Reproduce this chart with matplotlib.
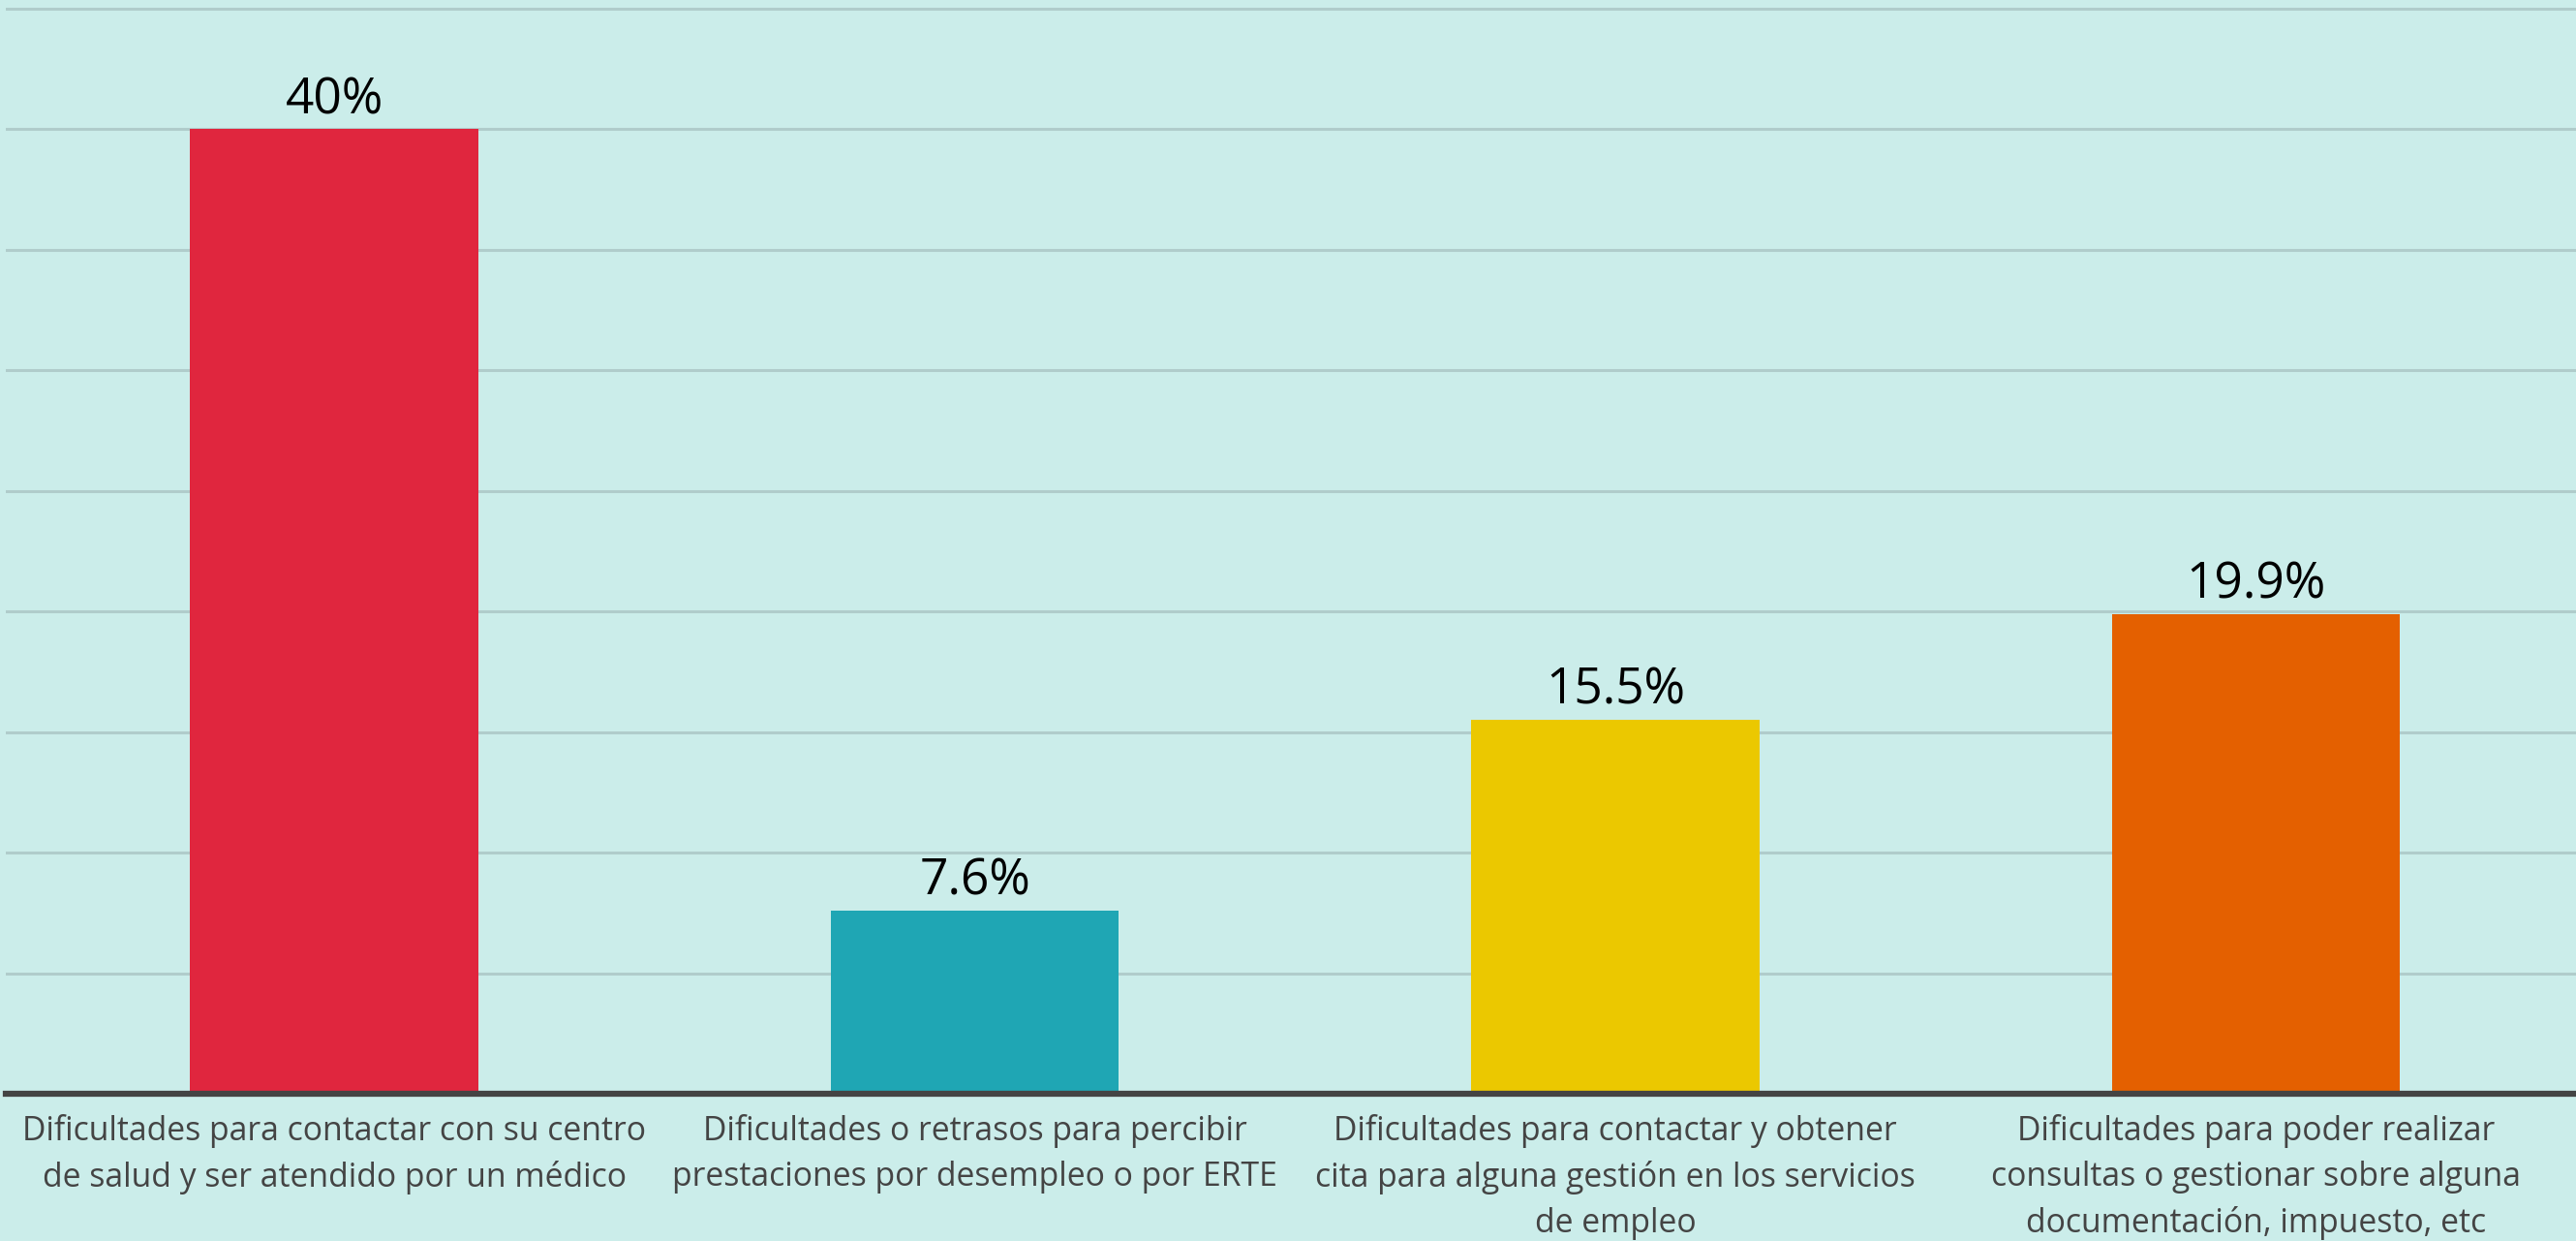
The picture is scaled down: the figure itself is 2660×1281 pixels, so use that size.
import matplotlib.pyplot as plt

categorias = [
    "Dificultades para contactar con su centro\nde salud y ser atendido por un médico",
    "Dificultades o retrasos para percibir\nprestaciones por desempleo o por ERTE",
    "Dificultades para contactar y obtener\ncita para alguna gestión en los servicios\nde empleo",
    "Dificultades para poder realizar\nconsultas o gestionar sobre alguna\ndocumentación, impuesto, etc",
]
valores = [40, 7.6, 15.5, 19.9]
etiquetas = ["40%", "7.6%", "15.5%", "19.9%"]
colores = ["#e0263e", "#1fa6b4", "#ebc800", "#e46000"]

fondo = "#cbedea"

fig = plt.figure(figsize=(26.6, 12.81), dpi=100, facecolor=fondo)
ax = fig.add_axes([6 / 2660, (1281 - 1129) / 1281, 1 - 6 / 2660, 1129 / 1281])
ax.set_facecolor(fondo)

x = range(len(valores))
ax.bar(x, valores, width=0.45, color=colores, zorder=3)

for i, v in enumerate(valores):
    ax.annotate(etiquetas[i], (i, v), xytext=(0, 3), textcoords="offset points",
                ha="center", va="bottom", fontsize=37, family="Open Sans",
                color="black")

ax.set_xlim(-0.513, 3.5)
ax.set_ylim(0, 45.35)
ax.set_yticks(range(5, 50, 5))
ax.yaxis.grid(True, color="#b0cccb", linewidth=2.2, zorder=0)
ax.tick_params(axis="y", left=False, labelleft=False)

ax.set_xticks(list(x))
ax.set_xticklabels(categorias, family="Open Sans", fontsize=24.3, color="#444444",
                   linespacing=1.5)
ax.tick_params(axis="x", length=0, pad=15)

for s in ["top", "right", "left"]:
    ax.spines[s].set_visible(False)
ax.spines["bottom"].set_color("#444444")
ax.spines["bottom"].set_linewidth(4.5)
ax.spines["bottom"].set_zorder(4)

fig.savefig("out.png", dpi=100, facecolor=fondo)
